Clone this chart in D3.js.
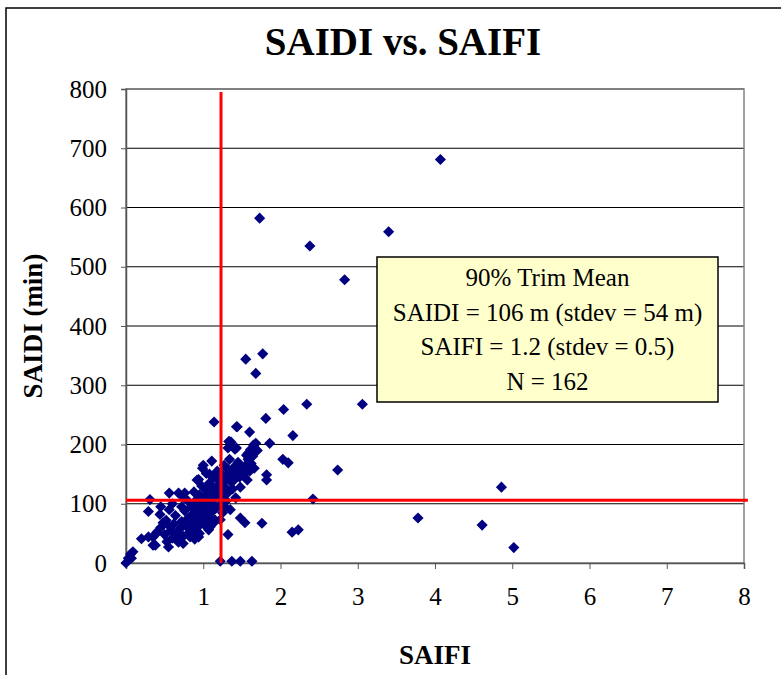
<!DOCTYPE html>
<html>
<head>
<meta charset="utf-8">
<script src="https://cdn.jsdelivr.net/npm/d3@7"></script>
<style>
  body { margin: 0; background: #fff; }
  svg text { font-family: "Liberation Serif", "Times New Roman", Times, Tinos, "DejaVu Serif", serif !important; }
</style>
</head>
<body>
<div id="chart"></div>
<script>
// SAIFI (x) and SAIDI (y) values
const saifi = [
  0.00, 0.03, 0.06, 0.07, 0.09, 0.20, 0.29, 0.31, 0.29, 0.35, 0.37, 0.35, 0.38, 0.44, 0.48,
  0.53, 0.55, 0.56, 0.68, 0.76, 0.57, 0.66, 0.74, 0.83, 0.87, 0.89, 0.94, 0.92, 0.94, 0.99,
  1.00, 1.04, 1.07, 1.09, 1.11, 1.10, 1.13, 1.14, 1.15, 1.22, 1.22, 1.32, 1.37, 1.48, 1.63,
  1.33, 1.32, 1.34, 1.36, 1.41, 1.43, 1.43, 1.44, 1.48, 1.54, 1.56, 1.58, 1.60, 1.61, 1.65,
  1.68, 1.76, 1.81, 1.82, 1.82, 1.86, 2.03, 2.04, 2.10, 2.15, 2.16, 2.23, 2.34, 2.42, 2.74,
  1.55, 1.68, 1.77, 1.73, 2.38, 2.83, 3.06, 3.40, 4.07, 3.78, 4.61, 4.86, 5.02,
  // dense cluster
  0.40, 0.45, 0.50, 0.52, 0.58, 0.60, 0.62, 0.64, 0.66, 0.70, 0.72, 0.74, 0.76, 0.78, 0.80,
  0.82, 0.84, 0.85, 0.86, 0.88, 0.90, 0.90, 0.92, 0.94, 0.95, 0.96, 0.98, 1.00, 1.00, 1.02,
  1.02, 1.04, 1.05, 1.06, 1.07, 1.08, 1.10, 1.10, 1.12, 1.13, 1.14, 1.15, 1.16, 1.18, 1.18,
  1.20, 1.20, 1.22, 1.23, 1.24, 1.25, 1.26, 1.27, 1.28, 1.30, 1.30, 1.32, 1.33, 1.34, 1.35,
  1.37, 1.38, 1.40, 1.40, 1.42, 1.44, 1.45, 1.47, 1.48, 1.50, 1.52, 1.55, 1.57, 1.58, 1.60,
  1.62, 1.64, 1.66, 1.70, 1.05, 0.95, 1.12, 1.25, 0.68, 0.72, 0.80, 0.60, 0.75, 0.88, 0.98,
  1.08, 0.56, 0.45, 1.28, 1.35
];
const saidi = [
  0, 8, 15, 8, 19, 41, 87, 107, 44, 30, 47, 44, 30, 82, 68,
  36, 27, 118, 118, 118, 61, 39, 33, 44, 50, 40, 44, 140, 141, 160,
  165, 151, 56, 61, 172, 67, 67, 238, 73, 73, 3, 48, 3, 3, 3,
  205, 194, 205, 204, 192, 230, 194, 230, 76, 68, 182, 185, 221, 191, 199,
  202, 67, 244, 149, 140, 202, 175, 259, 169, 52, 215, 56, 268, 108, 157,
  344, 320, 353, 582, 535, 478, 268, 559, 681, 76, 64, 128, 26,
  52, 60, 48, 72, 55, 42, 66, 80, 50, 58, 70, 45, 88, 62, 75,
  52, 95, 68, 82, 58, 105, 72, 90, 62, 115, 80, 98, 70, 110, 88,
  125, 102, 78, 118, 95, 135, 108, 85, 125, 100, 145, 115, 92, 130, 155,
  110, 140, 122, 98, 150, 135, 112, 165, 128, 145, 105, 158, 120, 175, 138,
  150, 125, 162, 140, 110, 155, 170, 145, 128, 160, 150, 165, 140, 175, 155,
  168, 180, 160, 190, 60, 50, 70, 85, 35, 95, 105, 100, 110, 120, 130,
  150, 90, 95, 95, 90
];
const xTicks = [0, 1, 2, 3, 4, 5, 6, 7, 8];
const yTicks = [0, 100, 200, 300, 400, 500, 600, 700, 800];
const meanSaifi = 1.23;
const meanSaidi = 106;
const noteLines = ["90% Trim Mean", "SAIDI = 106 m (stdev = 54 m)", "SAIFI = 1.2 (stdev = 0.5)", "N = 162"];

const W = 781, H = 675;
const margin = {top: 89, right: 37, bottom: 112, left: 126};
const width = W - margin.left - margin.right;
const height = H - margin.top - margin.bottom;

const svg = d3.select("#chart").append("svg")
    .attr("width", W)
    .attr("height", H);

// outer chart border
svg.append("rect")
    .attr("x", 6).attr("y", 8)
    .attr("width", W).attr("height", H)
    .attr("fill", "#fff")
    .attr("stroke", "#000")
    .attr("stroke-width", 1.5);

const g = svg.append("g")
    .attr("transform", "translate(" + margin.left + "," + margin.top + ")");

const x = d3.scaleLinear().domain([0, 8]).range([0, width]);
const y = d3.scaleLinear().domain([0, 800]).range([height, 0]);

// gridlines
g.selectAll(".grid")
    .data(yTicks.slice(1))
    .enter().append("line")
    .attr("x1", 0).attr("x2", width)
    .attr("y1", d => y(d)).attr("y2", d => y(d))
    .attr("stroke", "#000")
    .attr("stroke-width", 1);

// plot frame
g.append("rect")
    .attr("width", width).attr("height", height)
    .attr("fill", "none")
    .attr("stroke", "#808080")
    .attr("stroke-width", 1.5);

// axes
const xAxis = g.append("g")
    .attr("transform", "translate(0," + height + ")")
    .call(d3.axisBottom(x).tickValues(xTicks).tickSize(6).tickPadding(12).tickFormat(d3.format("d")));
const yAxis = g.append("g")
    .call(d3.axisLeft(y).tickValues(yTicks).tickSize(5).tickPadding(14));

[xAxis, yAxis].forEach(a => {
  a.attr("font-family", null);
  a.select(".domain").attr("stroke", "#555").attr("stroke-width", 1.5);
  a.selectAll(".tick line").attr("stroke", "#555");
  a.selectAll("text")
    .attr("fill", "#000")
    .style("font-size", "25px");
});
xAxis.selectAll("text").attr("dy", "0.95em");

// points
const pts = saifi.map((v, i) => ({x: v, y: saidi[i]}));
g.selectAll(".pt")
    .data(pts)
    .enter().append("path")
    .attr("d", d3.symbol().type(d3.symbolSquare).size(62))
    .attr("transform", d => "translate(" + x(d.x) + "," + y(d.y) + ") rotate(45)")
    .attr("fill", "#000080");

// mean lines
g.append("line")
    .attr("x1", x(meanSaifi)).attr("x2", x(meanSaifi))
    .attr("y1", y(0)).attr("y2", y(795))
    .attr("stroke", "#ff0000").attr("stroke-width", 3);
g.append("line")
    .attr("x1", x(0)).attr("x2", x(8.05))
    .attr("y1", y(meanSaidi)).attr("y2", y(meanSaidi))
    .attr("stroke", "#ff0000").attr("stroke-width", 3);

// annotation box
const box = svg.append("g").attr("transform", "translate(377,257)");
box.append("rect")
    .attr("width", 341).attr("height", 145)
    .attr("fill", "#ffffcc")
    .attr("stroke", "#000")
    .attr("stroke-width", 1.5);
box.selectAll("text")
    .data(noteLines)
    .enter().append("text")
    .attr("x", 170.5)
    .attr("y", (d, i) => 29 + i * 34.5)
    .attr("text-anchor", "middle")
    .style("font-size", "25px")
    .text(d => d);

// title
svg.append("text")
    .attr("x", 403).attr("y", 55)
    .attr("text-anchor", "middle")
    .style("font-size", "39px")
    .style("font-weight", "bold")
    .text("SAIDI vs. SAIFI");

// axis titles
svg.append("text")
    .attr("x", margin.left + width / 2).attr("y", 664)
    .attr("text-anchor", "middle")
    .style("font-size", "27px")
    .style("font-weight", "bold")
    .text("SAIFI");

svg.append("text")
    .attr("transform", "translate(42," + (margin.top + height / 2) + ") rotate(-90)")
    .attr("text-anchor", "middle")
    .style("font-size", "27px")
    .style("font-weight", "bold")
    .text("SAIDI (min)");
</script>
</body>
</html>
